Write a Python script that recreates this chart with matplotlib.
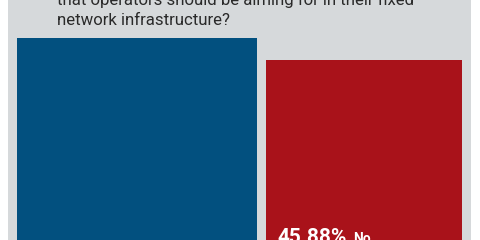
import matplotlib
matplotlib.use("Agg")
import matplotlib.pyplot as plt
import numpy as np
from matplotlib.patches import Rectangle

# Data
categories = ["Yes", "No"]
values = [54.12, 45.88]
title_lines = ["that operators should be aiming for in their fixed",
               "network infrastructure?"]

colors = ["#02507f", "#a9121a"]
panel_color = "#d6d9db"
font = ["Roboto", "DejaVu Sans"]

fig = plt.figure(figsize=(4.8, 2.4), dpi=100)
fig.patch.set_facecolor("white")

ax = fig.add_axes([0, 0, 1, 1])
ax.set_facecolor("none")
floor = -21.5
ax.set_xlim(0, 480)
ax.set_ylim(floor, 68.3)
ax.axis("off")

# grey panel behind bars
ax.add_patch(Rectangle((8, floor), 463, 68.3 - floor, facecolor=panel_color,
                       edgecolor="none", zorder=0))

centers = [136.75, 363.75]
widths = [239.5, 195.5]
ax.bar(centers, np.array(values) - floor, bottom=floor, width=widths,
       color=colors, edgecolor="none", zorder=2)

# value label on red bar (cut off at bottom as in reference)
ax.text(277, -22.6, f"{values[1]:.2f}%", color="white", fontsize=15,
        family=font, fontweight="bold", va="baseline", ha="left", zorder=3)
ax.text(353, -22.6, categories[1], color="white", fontsize=10,
        family=font, fontweight="bold", va="baseline", ha="left", zorder=3)

fig.text(57/480, 1 - 5/240, title_lines[0], fontsize=12.1, family=font,
         color="#2a2a2a", va="baseline", ha="left")
fig.text(57/480, 1 - 25/240, title_lines[1], fontsize=12.1, family=font,
         color="#2a2a2a", va="baseline", ha="left")

fig.savefig("out.png", dpi=100)
